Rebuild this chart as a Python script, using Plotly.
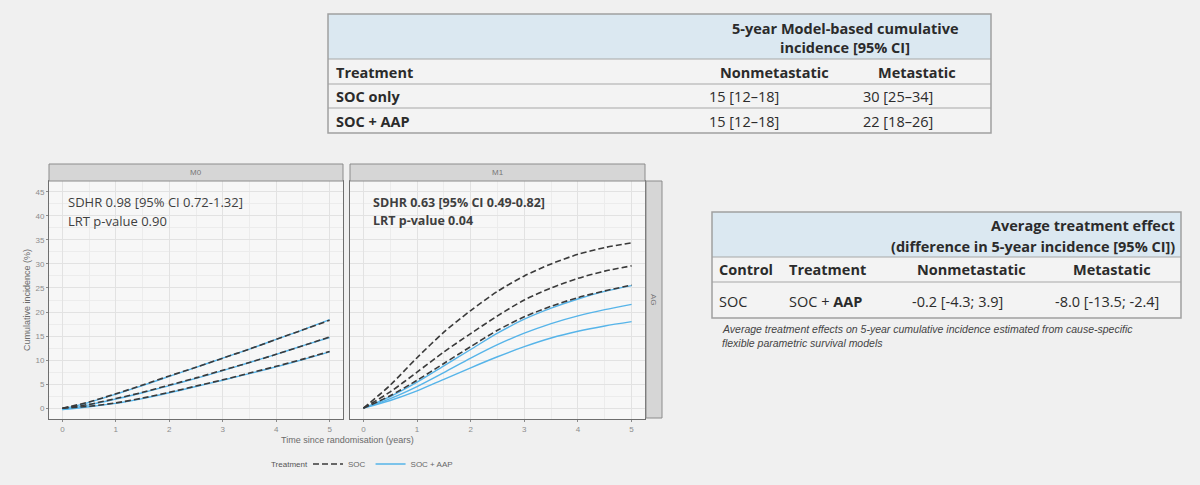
import plotly.graph_objects as go

W, H = 1200, 485

# follow-up time (years)
times = [0, 0.5, 1, 1.5, 2, 2.5, 3, 3.5, 4, 4.5, 5]

# M0 panel - cumulative incidence (%), upper CI / estimate / lower CI
m0_soc_hi = [0, 1.3, 3.0, 4.8, 6.7, 8.5, 10.4, 12.3, 14.3, 16.3, 18.3]
m0_soc_est = [0, 0.8, 2.0, 3.3, 4.8, 6.3, 7.9, 9.5, 11.2, 13.0, 14.8]
m0_soc_lo = [0, 0.4, 1.1, 2.1, 3.3, 4.6, 5.9, 7.3, 8.7, 10.2, 11.8]
m0_aap_hi = [-0.2, 1.2, 2.9, 4.7, 6.6, 8.5, 10.4, 12.3, 14.3, 16.3, 18.4]
m0_aap_est = [-0.3, 0.7, 1.9, 3.2, 4.7, 6.2, 7.8, 9.5, 11.2, 13.0, 14.7]
m0_aap_lo = [-0.3, 0.3, 1.0, 2.0, 3.2, 4.5, 5.8, 7.2, 8.6, 10.1, 11.7]

# M1 panel
m1_soc_hi = [0, 4.8, 10.5, 15.8, 20.3, 24.3, 27.5, 30.0, 32.0, 33.4, 34.4]
m1_soc_est = [0, 3.4, 7.5, 11.7, 15.5, 19.2, 22.5, 25.0, 27.0, 28.5, 29.6]
m1_soc_lo = [0, 2.6, 5.8, 9.3, 12.8, 16.2, 19.0, 21.2, 23.0, 24.4, 25.6]
m1_aap_hi = [0, 2.4, 5.4, 8.8, 12.2, 15.6, 18.5, 20.8, 22.7, 24.3, 25.5]
m1_aap_est = [0, 2.0, 4.5, 7.4, 10.4, 13.2, 15.6, 17.6, 19.2, 20.5, 21.6]
m1_aap_lo = [0, 1.6, 3.6, 6.0, 8.4, 10.7, 12.8, 14.6, 16.0, 17.1, 18.0]

panel_labels = ["M0", "M1"]
row_strip = "AG"
stats_m0 = ["SDHR 0.98 [95% CI 0.72-1.32]", "LRT p-value 0.90"]
stats_m1 = ["SDHR 0.63 [95% CI 0.49-0.82]", "LRT p-value 0.04"]

# top table
top_title = ["5-year Model-based cumulative", "incidence [95% CI]"]
top_cols = ["Treatment", "Nonmetastatic", "Metastatic"]
top_rows = ["SOC only", "SOC + AAP"]
top_nonmet = ["15 [12\u201318]", "15 [12\u201318]"]
top_met = ["30 [25\u201334]", "22 [18\u201326]"]

# right table
ate_title = ["Average treatment effect", "(difference in 5-year incidence [95% CI])"]
ate_cols = ["Control", "Treatment", "Nonmetastatic", "Metastatic"]
ate_row = ["SOC", "SOC + <b>AAP</b>", "-0.2 [-4.3; 3.9]", "-8.0 [-13.5; -2.4]"]
ate_caption = ["Average treatment effects on 5-year cumulative incidence estimated from cause-specific",
               "flexible parametric survival models"]

SOC_COL = "#3a3a3a"
AAP_COL = "#56b4e9"
FONT = "Open Sans"
TCOL = "#2b2b2b"


def px(x):
    return x / W


def py(y):
    return 1 - y / H


def txt(text, x, y, xanchor="center", yanchor="middle", size=14.5, color=TCOL,
        family=FONT, angle=0):
    return dict(text=text, x=px(x), y=py(y), xref="paper", yref="paper",
                xanchor=xanchor, yanchor=yanchor, showarrow=False, textangle=angle,
                font=dict(family=family, size=size, color=color))


def box(x0, x1, y0, y1, fill=None, line="#a0a0a0", lw=0):
    return dict(type="rect", xref="paper", yref="paper", x0=px(x0), x1=px(x1),
                y0=py(y1), y1=py(y0), fillcolor=fill or "rgba(0,0,0,0)",
                line=dict(color=line, width=lw))


def hline(x0, x1, y, color="#a8a8a8", lw=1.2):
    return dict(type="line", xref="paper", yref="paper", x0=px(x0), x1=px(x1),
                y0=py(y), y1=py(y), line=dict(color=color, width=lw))


fig = go.Figure()

panels = [
    ("x", "y", [m0_aap_hi, m0_aap_est, m0_aap_lo], [m0_soc_hi, m0_soc_est, m0_soc_lo]),
    ("x2", "y2", [m1_aap_hi, m1_aap_est, m1_aap_lo], [m1_soc_hi, m1_soc_est, m1_soc_lo]),
]
for i, (xa, ya, aap, soc) in enumerate(panels):
    for j, ys in enumerate(aap):
        fig.add_trace(go.Scatter(x=times, y=ys, xaxis=xa, yaxis=ya, mode="lines",
                                 line=dict(color=AAP_COL, width=1.4, shape="spline", smoothing=0.8),
                                 name="SOC + AAP", legendgroup="aap", legendrank=2,
                                 showlegend=(i == 0 and j == 0), hoverinfo="skip"))
    for j, ys in enumerate(soc):
        fig.add_trace(go.Scatter(x=times, y=ys, xaxis=xa, yaxis=ya, mode="lines",
                                 line=dict(color=SOC_COL, width=1.6, dash="6px,3px",
                                           shape="spline", smoothing=0.8),
                                 name="SOC", legendgroup="soc", legendrank=1,
                                 showlegend=(i == 0 and j == 0), hoverinfo="skip"))

axis_common = dict(showline=True, mirror=True, linecolor="#6e6e6e", linewidth=1,
                   gridcolor="#e2e2e2", gridwidth=1, zeroline=False,
                   ticks="outside", ticklen=2, tickcolor="#8a8a8a",
                   tickfont=dict(family="Liberation Sans", size=8, color="#8c8c8c"))
xcommon = dict(axis_common, range=[-0.25, 5.25], dtick=1, tick0=0,
               minor=dict(dtick=0.5, showgrid=True, gridcolor="#ececec"))
ycommon = dict(axis_common, range=[-2.25, 47.25], dtick=5, tick0=0,
               minor=dict(dtick=2.5, showgrid=True, gridcolor="#ececec"))

ydom = [py(419), py(181)]
fig.update_layout(
    width=W, height=H,
    margin=dict(l=0, r=0, t=0, b=0),
    paper_bgcolor="#f0f0f0", plot_bgcolor="#f7f7f7",
    xaxis=dict(xcommon, domain=[px(49), px(343)], anchor="y"),
    yaxis=dict(ycommon, domain=ydom, anchor="x"),
    xaxis2=dict(xcommon, domain=[px(350), px(645)], anchor="y2"),
    yaxis2=dict(ycommon, domain=ydom, anchor="x2", showticklabels=False, ticks=""),
    legend=dict(orientation="h", x=px(308), y=py(464), xanchor="left", yanchor="middle",
                font=dict(family="Liberation Sans", size=8, color="#666"),
                bgcolor="rgba(0,0,0,0)", itemwidth=30, tracegroupgap=0),
    font=dict(family=FONT),
)

shapes = []
ann = []

# facet strips
for lab, (x0, x1) in zip(panel_labels, [(49, 343), (350, 645)]):
    shapes.append(box(x0, x1, 164, 181, fill="#d6d6d6", line="#8c8c8c", lw=1))
    ann.append(txt(lab, (x0 + x1) / 2, 172.5, size=8, color="#777", family="Liberation Sans"))
shapes.append(box(646, 662, 181, 418, fill="#d6d6d6", line="#8c8c8c", lw=1))
ann.append(txt(row_strip, 654, 300, size=8, color="#777", family="Liberation Sans", angle=90))

# panel stats text
for k, t in enumerate(stats_m0):
    ann.append(txt(t, 66, 202 + 19 * k, xanchor="left", size=13, color="#3f3f3f"))
for k, t in enumerate(stats_m1):
    ann.append(txt("<b>%s</b>" % t, 371, 202 + 19 * k, xanchor="left", size=12.5, color="#3f3f3f"))

# axis titles + legend title
ann.append(txt("Time since randomisation (years)", 347, 440, size=9, color="#6a6a6a",
               family="Liberation Sans"))
ann.append(txt("Cumulative incidence (%)", 27, 300, size=9, color="#6a6a6a",
               family="Liberation Sans", angle=-90))
ann.append(txt("Treatment", 269, 464, xanchor="left", size=8, color="#555",
               family="Liberation Sans"))

# ---- top table
shapes.append(box(328, 991, 14, 133, fill="#f3f3f3"))
shapes.append(box(328, 991, 14, 59, fill="#dbe8f1"))
for yl in [59, 84, 108]:
    shapes.append(hline(328, 991, yl))
shapes.append(box(328, 991, 14, 133, lw=1.5))

for k, t in enumerate(top_title):
    ann.append(txt("<b>%s</b>" % t, 845, 28 + 20 * k))
ann.append(txt("<b>%s</b>" % top_cols[0], 334, 72, xanchor="left"))
ann.append(txt("<b>%s</b>" % top_cols[1], 774, 72))
ann.append(txt("<b>%s</b>" % top_cols[2], 917, 72))
for k, (r, a, b) in enumerate(zip(top_rows, top_nonmet, top_met)):
    yy = 96.5 + 24.5 * k
    ann.append(txt("<b>%s</b>" % r, 334, yy, xanchor="left"))
    ann.append(txt(a, 707, yy, xanchor="left"))
    ann.append(txt(b, 861, yy, xanchor="left"))

# ---- right table
shapes.append(box(712, 1181, 212, 318, fill="#f3f3f3"))
shapes.append(box(712, 1181, 212, 257, fill="#dbe8f1"))
for yl in [257, 282]:
    shapes.append(hline(712, 1181, yl))
shapes.append(box(712, 1181, 212, 318, lw=1.5))

for k, t in enumerate(ate_title):
    ann.append(txt("<b>%s</b>" % t, 1177, 225 + 21 * k, xanchor="right"))
col_x = [(717, "left"), (787, "left"), (971, "center"), (1112, "center")]
for t, (xx, anc) in zip(ate_cols, col_x):
    ann.append(txt("<b>%s</b>" % t, xx, 269, xanchor=anc))
row_x = [(717, "left"), (787, "left"), (957, "center"), (1107, "center")]
for t, (xx, anc) in zip(ate_row, row_x):
    ann.append(txt(t, xx, 301, xanchor=anc))
for k, t in enumerate(ate_caption):
    ann.append(txt("<i>%s</i>" % t, 720, 329 + 13.5 * k, xanchor="left", size=10.5,
                   color="#444", family="Liberation Sans"))

fig.update_layout(shapes=shapes, annotations=ann)
fig.write_html("out.html", config={"displayModeBar": False},
               post_script="document.body.style.margin='0';")
